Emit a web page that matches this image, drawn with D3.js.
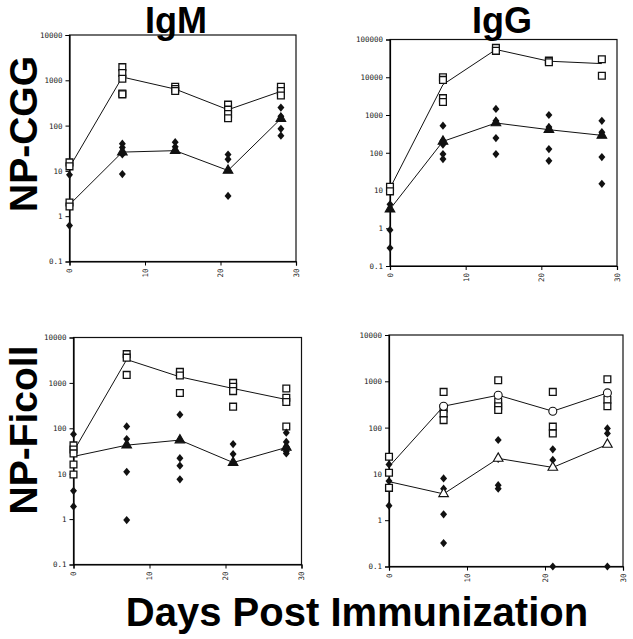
<!DOCTYPE html>
<html>
<head>
<meta charset="utf-8">
<script src="https://cdn.jsdelivr.net/npm/d3@7/dist/d3.min.js"></script>
<style>
  body { margin: 0; background: #fff; }
  svg { display: block; }
  .tick text { font-family: "DejaVu Sans Mono", monospace; font-size: 7.5px; fill: #222; }
  .big { font-family: "Liberation Sans", Arial, sans-serif; font-weight: bold; fill: #000; }
</style>
</head>
<body>
<div id="main"></div>
<script>
// sampling days and axis ticks
const days = [0, 7, 14, 21, 28];
const xTicks = [0, 10, 20, 30];
const yTicks4 = [0.1, 1, 10, 100, 1000, 10000];
const yTicks5 = [0.1, 1, 10, 100, 1000, 10000, 100000];

// NP-CGG, IgM
const cggIgmSquares = [[15.4, 12.6, 2.0, 1.64], [1950, 1450, 1080, 510, 490], [720, 640, 580], [290, 225, 180, 145], [720, 580, 460]];
const cggIgmDiamonds = [[8.2, 0.62], [40, 33, 23, 8.5], [43, 34], [23, 18, 2.8], [250, 160, 85, 60]];
const cggIgmUpper = [12, 1180, 640, 224, 570];
const cggIgmLower = [1.8, 26, 28, 10.2, 142];

// NP-CGG, IgG
const cggIggSquares = [[12.5, 9.5], [10000, 8500, 2800, 2200], [60000, 50000], [27500, 25000], [30000, 11000]];
const cggIggDiamonds = [[4.3, 0.9, 0.3], [520, 210, 165, 92, 68], [1450, 700, 245, 92], [1000, 480, 125, 61], [700, 350, 77, 15]];
const cggIggUpper = [11.5, 6380, 54300, 26600, 23000];
const cggIggLower = [3.2, 200, 614, 408, 289];

// NP-Ficoll, IgM
const ficIgmSquares = [[42, 34, 28, 16, 9.6], [4300, 3600, 1500], [1750, 1450, 600], [1000, 820, 660, 300], [750, 470, 380, 110]];
const ficIgmDiamonds = [[74, 4.2, 1.9], [110, 58, 11, 0.95], [200, 22, 15, 7.5], [45, 27], [80, 50, 39, 31, 28]];
const ficIgmUpper = [31, 3270, 1360, 753, 430];
const ficIgmLower = [24, 42.5, 55, 17.6, 37.8];

// NP-Ficoll, IgG
const ficIggSquares = [[23.5, 10.6, 5], [590, 260, 200, 145], [1050, 360, 290, 240], [590, 105, 75], [1110, 400, 290]];
const ficIggDiamonds = [[16, 7, 2.06], [8, 4.8, 1.34, 0.32], [54, 21, 5.7, 4.8], [34, 20, 0.1], [96, 75, 0.1]];
const ficIggUpper = [14.3, 290, 500, 226, 562];
const ficIggLower = [6.8, 3.7, 21.6, 13.8, 43.3];

const width = 633, height = 639;
const svg = d3.select('#main').append('svg').attr('width', width).attr('height', height);

const panels = [
    {x0: 69.5, x1: 296, y0: 35, y1: 261.5, top: 10000, ticks: yTicks4,
        squares: cggIgmSquares, diamonds: cggIgmDiamonds, upper: cggIgmUpper, lower: cggIgmLower,
        upperMark: null, lowerMark: 'tri', lowerFrom: 1},
    {x0: 390, x1: 617, y0: 39.5, y1: 266, top: 100000, ticks: yTicks5,
        squares: cggIggSquares, diamonds: cggIggDiamonds, upper: cggIggUpper, lower: cggIggLower,
        upperMark: null, lowerMark: 'tri', lowerFrom: 0},
    {x0: 73.5, x1: 301.5, y0: 337.5, y1: 564.5, top: 10000, ticks: yTicks4,
        squares: ficIgmSquares, diamonds: ficIgmDiamonds, upper: ficIgmUpper, lower: ficIgmLower,
        upperMark: null, lowerMark: 'tri', lowerFrom: 1},
    {x0: 389, x1: 623, y0: 335, y1: 566.5, top: 10000, ticks: yTicks4,
        squares: ficIggSquares, diamonds: ficIggDiamonds, upper: ficIggUpper, lower: ficIggLower,
        upperMark: 'circle', lowerMark: 'openTri', lowerFrom: 1}
];

// wider diamond than d3's default
const wideDiamond = {
    draw: function (ctx, size) {
        const w = Math.sqrt(size) * 0.55, h = Math.sqrt(size) * 0.65;
        ctx.moveTo(0, -h);
        ctx.lineTo(w, 0);
        ctx.lineTo(0, h);
        ctx.lineTo(-w, 0);
        ctx.closePath();
    }
};

const sq = d3.symbol().type(d3.symbolSquare).size(46);
const dia = d3.symbol().type(wideDiamond).size(40);
const tri = d3.symbol().type(d3.symbolTriangle).size(40);
const circ = d3.symbol().type(d3.symbolCircle).size(50);

function fmt(v) {
    return v < 1 ? '0.1' : String(v);
}

panels.forEach(function (p) {
    const x = d3.scaleLinear().domain([0, 30]).range([p.x0, p.x1]);
    const y = d3.scaleLog().domain([0.1, p.top]).range([p.y1, p.y0]);
    const g = svg.append('g');

    // frame
    g.append('rect')
        .attr('x', p.x0).attr('y', p.y0)
        .attr('width', p.x1 - p.x0).attr('height', p.y1 - p.y0)
        .attr('fill', 'none').attr('stroke', '#111').attr('stroke-width', 1.2);

    const yAxis = d3.axisLeft(y).tickValues(p.ticks).tickFormat(fmt).tickSize(4).tickPadding(3);
    const ya = g.append('g').attr('transform', 'translate(' + p.x0 + ',0)').call(yAxis);
    ya.select('.domain').attr('stroke-width', 1.2);

    const xAxis = d3.axisBottom(x).tickValues(xTicks).tickSize(4).tickPadding(2);
    const xa = g.append('g').attr('transform', 'translate(0,' + p.y1 + ')').call(xAxis);
    xa.select('.domain').attr('stroke-width', 1.2);
    xa.selectAll('.tick text')
        .attr('transform', 'rotate(-90)')
        .attr('text-anchor', 'end')
        .attr('dy', '0.32em')
        .attr('x', -7).attr('y', 0);

    const line = d3.line()
        .x(function (d, i) { return x(days[i]); })
        .y(function (d) { return y(d); });

    g.append('path').datum(p.upper).attr('d', line)
        .attr('fill', 'none').attr('stroke', '#111').attr('stroke-width', 1);
    g.append('path').datum(p.lower).attr('d', line)
        .attr('fill', 'none').attr('stroke', '#111').attr('stroke-width', 1);

    const sqPts = [], diaPts = [];
    p.squares.forEach(function (vals, i) {
        vals.forEach(function (v) { sqPts.push([days[i], v]); });
    });
    p.diamonds.forEach(function (vals, i) {
        vals.forEach(function (v) { diaPts.push([days[i], v]); });
    });

    g.selectAll('.sq').data(sqPts).enter().append('path')
        .attr('d', sq)
        .attr('transform', function (d) { return 'translate(' + x(d[0]) + ',' + y(d[1]) + ')'; })
        .attr('fill', '#fff').attr('stroke', '#111').attr('stroke-width', 1.3);

    g.selectAll('.dia').data(diaPts).enter().append('path')
        .attr('d', dia)
        .attr('transform', function (d) { return 'translate(' + x(d[0]) + ',' + y(Math.max(d[1], 0.1)) + ')'; })
        .attr('fill', '#111');

    const lowPts = p.lower.map(function (v, i) { return [days[i], v]; }).slice(p.lowerFrom);
    g.selectAll('.tri').data(lowPts).enter().append('path')
        .attr('d', tri)
        .attr('transform', function (d) { return 'translate(' + x(d[0]) + ',' + y(d[1]) + ')'; })
        .attr('fill', p.lowerMark === 'tri' ? '#111' : '#fff')
        .attr('stroke', '#111').attr('stroke-width', 1.1);

    if (p.upperMark === 'circle') {
        const upPts = p.upper.map(function (v, i) { return [days[i], v]; }).slice(1);
        g.selectAll('.circ').data(upPts).enter().append('path')
            .attr('d', circ)
            .attr('transform', function (d) { return 'translate(' + x(d[0]) + ',' + y(d[1]) + ')'; })
            .attr('fill', '#fff').attr('stroke', '#111').attr('stroke-width', 1.1);
    }
});

// titles and labels
svg.append('text').attr('class', 'big').attr('x', 176).attr('y', 33)
    .attr('text-anchor', 'middle').attr('font-size', 36).text('IgM');
svg.append('text').attr('class', 'big').attr('x', 502).attr('y', 33)
    .attr('text-anchor', 'middle').attr('font-size', 36).text('IgG');
svg.append('text').attr('class', 'big')
    .attr('transform', 'translate(37,134) rotate(-90)')
    .attr('text-anchor', 'middle').attr('font-size', 39).text('NP-CGG');
svg.append('text').attr('class', 'big')
    .attr('transform', 'translate(37,430) rotate(-90)')
    .attr('text-anchor', 'middle').attr('font-size', 39).text('NP-Ficoll');
svg.append('text').attr('class', 'big').attr('x', 357).attr('y', 626)
    .attr('text-anchor', 'middle').attr('font-size', 40).text('Days Post Immunization');
</script>
</body>
</html>
